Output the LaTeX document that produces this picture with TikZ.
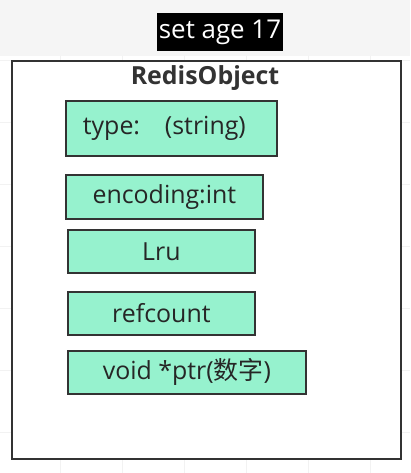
\documentclass[tikz,border=0pt]{standalone}
\usepackage{fontspec}
\setmainfont{Open Sans}
\newfontfamily\cjk{Noto Sans CJK SC}
\definecolor{mint}{HTML}{96F2CE}
\definecolor{edge}{HTML}{333333}
\begin{document}
\begin{tikzpicture}[x=1bp,y=-1bp,
  field/.style={draw=edge,line width=1.8bp,fill=mint,inner sep=0pt,anchor=north west,font=\fontsize{25}{30}\selectfont,text=black!85},
  grid/.style={draw=black!5,line width=0.6bp}]
\useasboundingbox (0,0) rectangle (410,473);
\fill[black!4] (0,0) rectangle (410,56);
\foreach \x in {60,122,184,246,308,370} {\draw[grid] (\x,56) -- (\x,473);}
\foreach \y in {60,122,184,246,308,370,432} {\draw[grid] (0,\y) -- (410,\y);}
\node[fill=black,text=white,minimum width=126bp,minimum height=38bp,inner sep=0pt,font=\fontsize{26}{30}\selectfont] (cmd) at (220,32) {set age 17};
\node[draw=edge,line width=2.2bp,fill=white,minimum width=389bp,minimum height=398bp,anchor=north west,inner sep=0pt] (obj) at (11,60) {};
\node[font=\bfseries\fontsize{25}{30}\selectfont,text=black!80] (title) at (205,78) {RedisObject};
\node[field,minimum width=211bp,minimum height=55bp,text width=193bp,align=left] (type) at (65,100) {\hspace*{8bp}type:\ \ \ (string)};
\node[field,minimum width=197bp,minimum height=44bp] (enc) at (65,174) {encoding:int};
\node[field,minimum width=187bp,minimum height=43bp] (lru) at (67,229) {Lru};
\node[field,minimum width=187bp,minimum height=43bp] (ref) at (67,291) {refcount};
\node[field,minimum width=238bp,minimum height=43bp] (ptr) at (67,350) {void *ptr({\cjk 数字})};
\end{tikzpicture}
\end{document}
